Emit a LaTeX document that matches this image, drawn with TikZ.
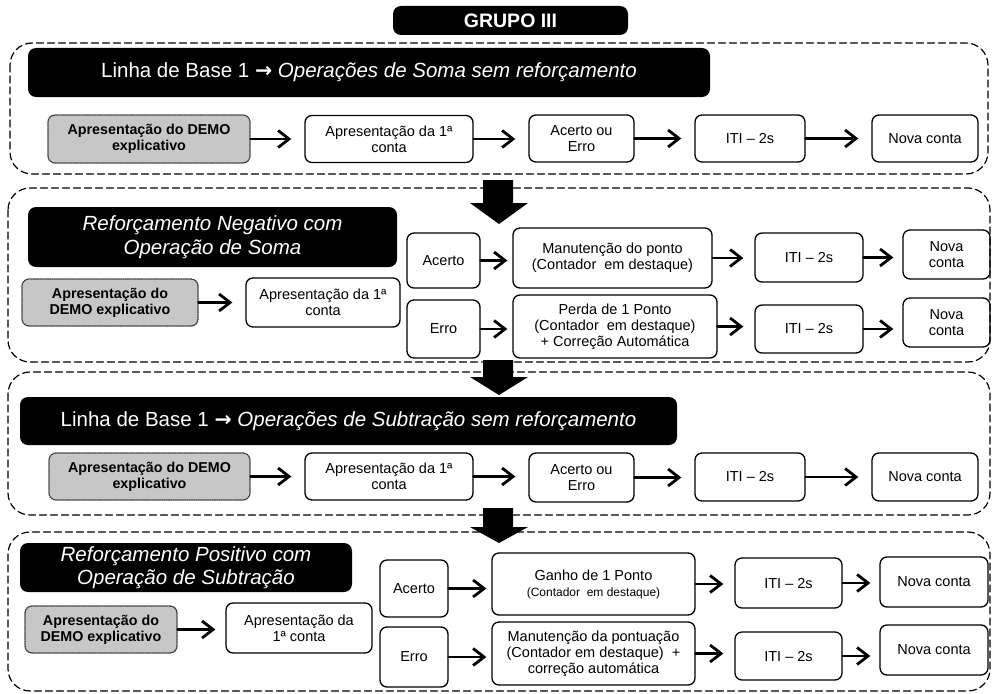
\documentclass[tikz,border=0pt]{standalone}
\usepackage{fontspec}
\setmainfont{Liberation Sans}
\newfontfamily\arrowfont{DejaVu Sans}
\usetikzlibrary{arrows.meta}
\definecolor{demogray}{rgb}{0.78,0.78,0.78}
\newcommand{\hdarrow}{{\arrowfont\bfseries →}}

\begin{document}
\begin{tikzpicture}[line cap=round,line join=round,x=1pt,y=-1pt,
  box/.style={draw,line width=1.3pt,rounded corners=7pt,align=center,inner sep=1pt,font=\fontsize{14.5}{16}\selectfont},
  demo/.style={box,fill=demogray,draw=black!75,densely dotted,font=\bfseries\fontsize{14.3}{16}\selectfont},
  head/.style={fill=black,text=white,rounded corners=8pt,align=center,inner sep=0pt,font=\fontsize{20.5}{24}\selectfont},
  sect/.style={dash pattern=on 7pt off 4pt,line width=1.2pt,rounded corners=22pt},
  arr/.style={-{Straight Barb[length=11pt,width=17pt]},line width=2.8pt,shorten >=13pt}]
\useasboundingbox (0,0) rectangle (992,693);

\draw [sect] (10,43) rectangle (988,174);
\draw [sect] (8,188) rectangle (990,362);
\draw [sect] (8,372) rectangle (990,515);
\draw [sect] (8,532) rectangle (990,691);

\node [head,minimum width=235pt,minimum height=29pt,font=\bfseries\fontsize{19.5}{22}\selectfont] (title) at (510.5,20.5) {GRUPO III};

\node [head,minimum width=682pt,minimum height=49pt] (h1) at (369,72.5) {Linha de Base 1 \hdarrow{} \textit{Operações de Soma sem reforçamento}};
\node [demo,minimum width=202pt,minimum height=48pt] (d1) at (149,139) {Apresentação do DEMO\\explicativo};
\node [box,minimum width=168pt,minimum height=47pt] (a1) at (389,139) {Apresentação da 1ª\\conta};
\node [box,minimum width=105pt,minimum height=47pt] (r1) at (581.5,138.5) {Acerto ou\\Erro};
\node [box,minimum width=110pt,minimum height=47pt] (i1) at (750,138.5) {ITI – 2s};
\node [box,minimum width=106pt,minimum height=47pt] (n1) at (925,138.5) {Nova conta};
\draw [arr] (d1.east) -- (d1.east -| a1.west);
\draw [arr] (a1.east) -- (a1.east -| r1.west);
\draw [arr] (r1.east) -- (r1.east -| i1.west);
\draw [arr] (i1.east) -- (i1.east -| n1.west);

\node [head,minimum width=369pt,minimum height=60pt,font=\itshape\fontsize{20.5}{24}\selectfont] (h2) at (212.5,237) {Reforçamento Negativo com\\Operação de Soma};
\node [demo,minimum width=176pt,minimum height=47pt] (d2) at (110,302.5) {Apresentação do\\DEMO explicativo};
\node [box,minimum width=154pt,minimum height=49pt] (a2) at (323,302.5) {Apresentação da 1ª\\conta};
\node [box,minimum width=73pt,minimum height=55pt] (ac2) at (443.5,260.5) {Acerto};
\node [box,minimum width=73pt,minimum height=58pt] (er2) at (443.5,329) {Erro};
\node [box,minimum width=199pt,minimum height=60pt] (m2) at (612.5,258) {Manutenção do ponto\\(Contador \ em destaque)};
\node [box,minimum width=204pt,minimum height=63pt] (p2) at (615,326.5) {Perda de 1 Ponto\\(Contador \ em destaque)\\+ Correção Automática};
\node [box,minimum width=108pt,minimum height=49pt] (i2u) at (809,257.5) {ITI – 2s};
\node [box,minimum width=108pt,minimum height=48pt] (i2l) at (809,329) {ITI – 2s};
\node [box,minimum width=87pt,minimum height=49pt] (n2u) at (946.5,254.5) {Nova\\conta};
\node [box,minimum width=87pt,minimum height=49pt] (n2l) at (946.5,322.5) {Nova\\conta};
\draw [arr] (d2.east) -- (d2.east -| a2.west);
\draw [arr,shorten >=5pt] (ac2.east) -- (ac2.east -| m2.west);
\draw [arr,shorten >=5pt] (er2.east) -- (er2.east -| p2.west);
\draw [arr,shorten >=11pt] (m2.east) -- (m2.east -| i2u.west);
\draw [arr,shorten >=11pt] (p2.east) -- (p2.east -| i2l.west);
\draw [arr,shorten >=9pt] (i2u.east) -- (i2u.east -| n2u.west);
\draw [arr,shorten >=9pt] (i2l.east) -- (i2l.east -| n2l.west);

\node [head,minimum width=657pt,minimum height=48pt] (h3) at (348.5,421) {Linha de Base 1 \hdarrow{} \textit{Operações de Subtração sem reforçamento}};
\node [demo,minimum width=201pt,minimum height=47pt] (d3) at (149.5,476.5) {Apresentação do DEMO\\explicativo};
\node [box,minimum width=168pt,minimum height=47pt] (a3) at (389,476.5) {Apresentação da 1ª\\conta};
\node [box,minimum width=105pt,minimum height=49pt] (r3) at (581.5,477.5) {Acerto ou\\Erro};
\node [box,minimum width=110pt,minimum height=48pt] (i3) at (750,477) {ITI – 2s};
\node [box,minimum width=106pt,minimum height=48pt] (n3) at (925,477) {Nova conta};
\draw [arr] (d3.east) -- (d3.east -| a3.west);
\draw [arr] (a3.east) -- (a3.east -| r3.west);
\draw [arr] (r3.east) -- (r3.east -| i3.west);
\draw [arr] (i3.east) -- (i3.east -| n3.west);

\node [head,minimum width=332pt,minimum height=49pt,font=\itshape\fontsize{20.5}{23}\selectfont] (h4) at (186,567.5) {Reforçamento Positivo com\\Operação de Subtração};
\node [demo,minimum width=152pt,minimum height=47pt] (d4) at (101,629.5) {Apresentação do\\DEMO explicativo};
\node [box,minimum width=146pt,minimum height=50pt] (a4) at (299,628) {Apresentação da\\1ª conta};
\node [box,minimum width=68pt,minimum height=57pt] (ac4) at (414,588.5) {Acerto};
\node [box,minimum width=68pt,minimum height=60pt] (er4) at (414,657) {Erro};
\node [box,minimum width=203pt,minimum height=62pt] (g4) at (593.5,584) {Ganho de 1 Ponto\\{\fontsize{12}{14}\selectfont(Contador \ em destaque)}};
\node [box,minimum width=203pt,minimum height=63pt] (m4) at (593.5,653.5) {Manutenção da pontuação\\(Contador em destaque) \ +\\correção automática};
\node [box,minimum width=107pt,minimum height=50pt] (i4u) at (788.5,583) {ITI – 2s};
\node [box,minimum width=107pt,minimum height=48pt] (i4l) at (788.5,656) {ITI – 2s};
\node [box,minimum width=108pt,minimum height=50pt] (n4u) at (934,582) {Nova conta};
\node [box,minimum width=108pt,minimum height=50pt] (n4l) at (934,650) {Nova conta};
\draw [arr,shorten >=10pt] (d4.east) -- (d4.east -| a4.west);
\draw [arr,shorten >=5pt] (ac4.east) -- (ac4.east -| g4.west);
\draw [arr,shorten >=5pt] (er4.east) -- (er4.east -| m4.west);
\draw [arr,shorten >=11pt] (g4.east) -- (g4.east -| i4u.west);
\draw [arr,shorten >=11pt] (m4.east) -- (m4.east -| i4l.west);
\draw [arr,shorten >=9pt] (i4u.east) -- (i4u.east -| n4u.west);
\draw [arr,shorten >=9pt] (i4l.east) -- (i4l.east -| n4l.west);

\foreach \t/\m/\b in {180/203/224,360/377/395,508/527/543}
  \fill (483,\t) -- (513,\t) -- (513,\m) -- (528,\m) -- (499,\b) -- (470,\m) -- (483,\m) -- cycle;
\end{tikzpicture}
\end{document}
